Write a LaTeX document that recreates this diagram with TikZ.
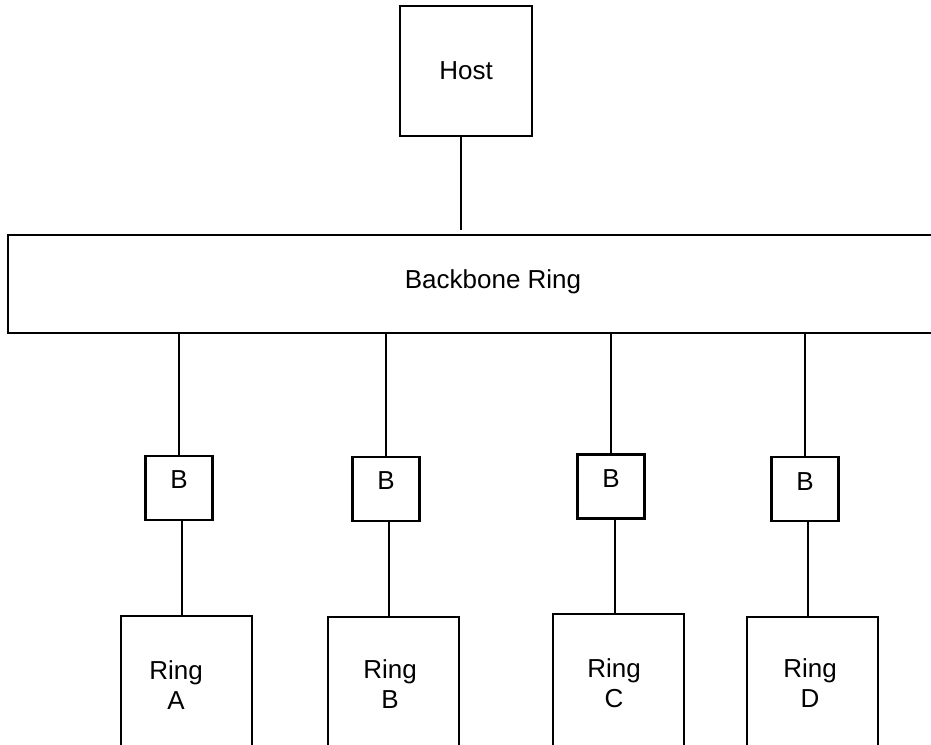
\documentclass[tikz,border=0pt]{standalone}
\usepackage{fontspec}
\setmainfont{Liberation Sans}
\begin{document}
\begin{tikzpicture}[x=1pt,y=-1pt,
  box/.style={draw, line width=2.8pt, inner sep=0pt},
  conn/.style={line width=1.3pt},
  txt/.style={font=\fontsize{26}{30}\selectfont, align=center, inner sep=0pt},
  bbox/.style={box, minimum width=67pt, minimum height=64pt},
  ringbox/.style={box, minimum width=131pt, minimum height=170pt}]
\useasboundingbox (0,0) rectangle (931,744);
\clip (0,0) rectangle (931,744);
% host
\node[box, txt, minimum width=132pt, minimum height=130pt] (host) at (466,71) {Host};
% backbone
\node[box, minimum width=940pt, minimum height=98pt] (bb) at (478,284) {};
\node[txt] (bbt) at (493,282) {Backbone Ring};
\coordinate (hend) at (461,230);
\draw[conn] (hend |- host.south) -- (hend);
% bridges
\node[bbox, label={[txt, yshift=8pt]center:B}] (bA) at (179,488) {};
\node[bbox, label={[txt, yshift=8pt]center:B}] (bB) at (386,489) {};
\node[bbox, label={[txt, yshift=7.5pt]center:B}] (bC) at (611,486.5) {};
\node[bbox, label={[txt, yshift=7pt]center:B}] (bD) at (805,489) {};
% rings
\node[ringbox] (rA) at (186.5,701) {};
\node[ringbox] (rB) at (393.5,702) {};
\node[ringbox] (rC) at (618.5,699) {};
\node[ringbox] (rD) at (812.5,702) {};
\node[txt] (tA) at (176,685) {Ring\\A};
\node[txt] (tB) at (390,684) {Ring\\B};
\node[txt] (tC) at (614,683) {Ring\\C};
\node[txt] (tD) at (810,683) {Ring\\D};
% connectors backbone -> bridges
\foreach \b in {bA,bB,bC,bD}
  \draw[conn] (\b.north) -- (\b.north |- bb.south);
% connectors bridges -> rings
\draw[conn] ([xshift=3pt]bA.south) -- ([xshift=3pt]bA.south |- rA.north);
\draw[conn] ([xshift=3pt]bB.south) -- ([xshift=3pt]bB.south |- rB.north);
\draw[conn] ([xshift=4pt]bC.south) -- ([xshift=4pt]bC.south |- rC.north);
\draw[conn] ([xshift=3pt]bD.south) -- ([xshift=3pt]bD.south |- rD.north);
\end{tikzpicture}
\end{document}
